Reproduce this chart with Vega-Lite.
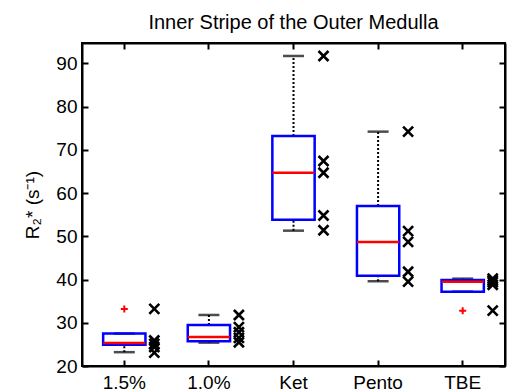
{
  "$schema": "https://vega.github.io/schema/vega-lite/v6.json",
  "width": 423,
  "height": 323,
  "autosize": "none",
  "padding": {"left": 82, "top": 43, "right": 10, "bottom": 25},
  "background": "white",
  "config": {
    "font": "Liberation Sans",
    "view": {"stroke": "black", "strokeWidth": 2},
    "axis": {"grid": false, "domainColor": "black", "domainWidth": 2, "tickColor": "black", "tickWidth": 2, "labelColor": "black", "titleColor": "black", "labelFont": "Liberation Sans", "titleFont": "Liberation Sans"}
  },
  "title": {"text": "Inner Stripe of the Outer Medulla", "fontSize": 20, "fontWeight": "normal", "color": "black", "font": "Liberation Sans", "offset": 9},
  "datasets": {
    "boxes": [
      {"group": "1.5%", "lower": 23.2, "q1": 24.9, "median": 25.3, "q3": 27.5, "upper": 27.5},
      {"group": "1.0%", "lower": 25.4, "q1": 25.7, "median": 26.7, "q3": 29.5, "upper": 31.8},
      {"group": "Ket", "lower": 51.3, "q1": 53.8, "median": 64.7, "q3": 73.2, "upper": 91.7},
      {"group": "Pento", "lower": 39.6, "q1": 40.9, "median": 48.7, "q3": 57.0, "upper": 74.2},
      {"group": "TBE", "lower": 37.2, "q1": 37.2, "median": 39.5, "q3": 39.9, "upper": 40.2}
    ],
    "outliers": [
      {"group": "1.5%", "value": 33.2},
      {"group": "TBE", "value": 32.8}
    ],
    "points": [
      {"group": "1.5%", "value": 33.2},
      {"group": "1.5%", "value": 25.9},
      {"group": "1.5%", "value": 25.1},
      {"group": "1.5%", "value": 24.4},
      {"group": "1.5%", "value": 23.1},
      {"group": "1.0%", "value": 31.8},
      {"group": "1.0%", "value": 29.0},
      {"group": "1.0%", "value": 27.8},
      {"group": "1.0%", "value": 26.5},
      {"group": "1.0%", "value": 25.5},
      {"group": "Ket", "value": 91.7},
      {"group": "Ket", "value": 67.4},
      {"group": "Ket", "value": 64.7},
      {"group": "Ket", "value": 54.8},
      {"group": "Ket", "value": 51.4},
      {"group": "Pento", "value": 74.2},
      {"group": "Pento", "value": 51.2},
      {"group": "Pento", "value": 48.7},
      {"group": "Pento", "value": 41.8},
      {"group": "Pento", "value": 39.5},
      {"group": "TBE", "value": 40.2},
      {"group": "TBE", "value": 39.8},
      {"group": "TBE", "value": 39.4},
      {"group": "TBE", "value": 38.8},
      {"group": "TBE", "value": 32.8}
    ]
  },
  "layer": [
    {
      "encoding": {
        "x": {"field": "group", "type": "nominal", "sort": ["1.5%", "1.0%", "Ket", "Pento", "TBE"],
          "scale": {"type": "band", "paddingInner": 0, "paddingOuter": 0},
          "axis": {"title": null, "labelAngle": 0, "labelFontSize": 19, "tickSize": -6, "labelPadding": 13}}
      },
      "layer": [
        {
          "data": {"name": "boxes"},
          "mark": {"type": "rule", "color": "black", "strokeWidth": 2, "strokeDash": [2, 2]},
          "encoding": {
            "y": {"field": "q3", "type": "quantitative", "scale": {"domain": [20, 94.7], "nice": false, "zero": false},
              "axis": {"title": "R₂* (s⁻¹)", "titleFontSize": 19, "titleFontWeight": "normal", "labelFontSize": 19, "values": [20, 30, 40, 50, 60, 70, 80, 90], "tickSize": -6, "labelPadding": 11, "titlePadding": 13}},
            "y2": {"field": "upper"}
          }
        },
        {
          "data": {"name": "boxes"},
          "mark": {"type": "rule", "color": "black", "strokeWidth": 2, "strokeDash": [2, 2]},
          "encoding": {"y": {"field": "lower", "type": "quantitative"}, "y2": {"field": "q1"}}
        },
        {
          "data": {"name": "boxes"},
          "mark": {"type": "tick", "color": "black", "size": 21, "thickness": 2.5, "orient": "horizontal"},
          "encoding": {"y": {"field": "upper", "type": "quantitative"}}
        },
        {
          "data": {"name": "boxes"},
          "mark": {"type": "tick", "color": "black", "size": 21, "thickness": 2.5, "orient": "horizontal"},
          "encoding": {"y": {"field": "lower", "type": "quantitative"}}
        },
        {
          "data": {"name": "boxes"},
          "mark": {"type": "bar", "fill": "white", "fillOpacity": 0, "stroke": "#0000ff", "strokeWidth": 2.5, "width": {"band": 0.5}},
          "encoding": {"y": {"field": "q1", "type": "quantitative"}, "y2": {"field": "q3"}}
        },
        {
          "data": {"name": "boxes"},
          "mark": {"type": "tick", "color": "#ff0000", "opacity": 1, "size": 42, "thickness": 2.5, "orient": "horizontal"},
          "encoding": {"y": {"field": "median", "type": "quantitative"}}
        },
        {
          "data": {"name": "outliers"},
          "mark": {"type": "point", "shape": "M-1,0L1,0M0,-1L0,1", "filled": false, "stroke": "#ff0000", "strokeWidth": 2, "size": 49, "opacity": 1},
          "encoding": {"y": {"field": "value", "type": "quantitative"}}
        },
        {
          "data": {"name": "points"},
          "mark": {"type": "point", "shape": "M-1,-1L1,1M-1,1L1,-1", "filled": false, "stroke": "black", "strokeWidth": 2.6, "size": 100, "xOffset": 30, "opacity": 1},
          "encoding": {"y": {"field": "value", "type": "quantitative"}}
        }
      ]
    },
    {
      "data": {"name": "boxes"},
      "mark": {"type": "point", "opacity": 0},
      "encoding": {
        "x": {"field": "group", "type": "nominal", "sort": ["1.5%", "1.0%", "Ket", "Pento", "TBE"],
          "scale": {"type": "band", "paddingInner": 0, "paddingOuter": 0},
          "axis": {"orient": "top", "title": null, "labels": false, "tickSize": -6}},
        "y": {"field": "median", "type": "quantitative", "scale": {"domain": [20, 94.7], "nice": false, "zero": false},
          "axis": {"orient": "right", "title": null, "labels": false, "values": [20, 30, 40, 50, 60, 70, 80, 90], "tickSize": -6}}
      }
    }
  ],
  "resolve": {"axis": {"x": "independent", "y": "independent"}}
}
